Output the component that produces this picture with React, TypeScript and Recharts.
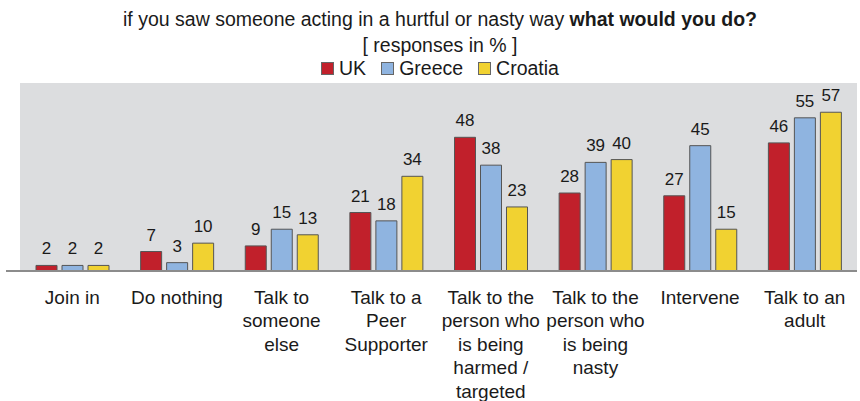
import React from "react";
import { BarChart, Bar, XAxis, YAxis, CartesianGrid, LabelList, Legend } from "recharts";

const categories = [
  "Join in",
  "Do nothing",
  "Talk to someone else",
  "Talk to a Peer Supporter",
  "Talk to the person who is being harmed / targeted",
  "Talk to the person who is being nasty",
  "Intervene",
  "Talk to an adult",
];

const tickLines: string[][] = [
  ["Join in"],
  ["Do nothing"],
  ["Talk to", "someone", "else"],
  ["Talk to a", "Peer", "Supporter"],
  ["Talk to the", "person who", "is being", "harmed /", "targeted"],
  ["Talk to the", "person who", "is being", "nasty"],
  ["Intervene"],
  ["Talk to an", "adult"],
];

const ukValues = [2, 7, 9, 21, 48, 28, 27, 46];
const greeceValues = [2, 3, 15, 18, 38, 39, 45, 55];
const croatiaValues = [2, 10, 13, 34, 23, 40, 15, 57];

const seriesNames = ["UK", "Greece", "Croatia"];
const seriesColors = ["#c1202b", "#8fb4e0", "#f1d231"];

const data = categories.map((c, i) => ({
  name: c,
  UK: ukValues[i],
  Greece: greeceValues[i],
  Croatia: croatiaValues[i],
}));

const FONT = '"Liberation Sans", Arial, sans-serif';

const Tick = (props: any) => {
  const { x, y, payload } = props;
  const idx = categories.indexOf(payload.value);
  const lines = tickLines[idx] || [payload.value];
  return (
    <text x={x} y={y} textAnchor="middle" fontFamily={FONT} fontSize={19} fill="#1a1a1a">
      {lines.map((l, i) => (
        <tspan key={i} x={x} dy={i === 0 ? 33 : 23.4}>
          {l}
        </tspan>
      ))}
    </text>
  );
};

const LegendContent = () => (
  <div
    style={{
      display: "flex",
      justifyContent: "center",
      alignItems: "center",
      fontFamily: FONT,
      fontSize: 19.5,
      color: "#1a1a1a",
      lineHeight: "20px",
      height: 20,
    }}
  >
    {seriesNames.map((n, i) => (
      <span key={n} style={{ display: "inline-flex", alignItems: "center", marginRight: i < 2 ? 15 : 0 }}>
        <span
          style={{
            display: "inline-block",
            width: 11,
            height: 11,
            background: seriesColors[i],
            border: "1px solid #666",
            marginRight: 5,
          }}
        />
        {n}
      </span>
    ))}
  </div>
);

export default function App() {
  return (
    <div style={{ position: "absolute", left: 0, top: 0, width: 860, height: 401, background: "#fff" }}>
      <div
        style={{
          position: "absolute",
          left: 0,
          top: 9,
          width: 880,
          textAlign: "center",
          fontFamily: FONT,
          fontSize: 19.5,
          lineHeight: "20px",
          color: "#1a1a1a",
          whiteSpace: "nowrap",
        }}
      >
        if you saw someone acting in a hurtful or nasty way <b>what would you do?</b>
      </div>
      <div
        style={{
          position: "absolute",
          left: 0,
          top: 35,
          width: 880,
          textAlign: "center",
          fontFamily: FONT,
          fontSize: 19.5,
          lineHeight: "20px",
          color: "#1a1a1a",
        }}
      >
        [ responses in % ]
      </div>
      <BarChart
        width={860}
        height={401}
        data={data}
        margin={{ top: 63, right: 3, left: 20, bottom: 100 }}
        barGap={5}
        barSize={21}
      >
        <CartesianGrid fill="#dcdddf" horizontal={false} vertical={false} stroke="none" />
        <Legend
          verticalAlign="top"
          align="center"
          content={<LegendContent />}
          wrapperStyle={{ top: 58, left: 0, width: 880, height: 20 }}
        />
        <XAxis
          dataKey="name"
          interval={0}
          height={30}
          tickLine={false}
          tickSize={0}
          tickMargin={0}
          axisLine={{ stroke: "#8c8c8c", strokeWidth: 2 }}
          tick={<Tick />}
        />
        <YAxis hide domain={[0, 67.5]} />
        {seriesNames.map((n, i) => (
          <Bar key={n} dataKey={n} fill={seriesColors[i]} stroke="#555" strokeWidth={1} isAnimationActive={false}>
            <LabelList
              dataKey={n}
              position="top"
              offset={11}
              fontFamily={FONT}
              fontSize={17}
              fill="#1a1a1a"
            />
          </Bar>
        ))}
      </BarChart>
      <div style={{ position: "absolute", left: 6, top: 270, width: 14, height: 2, background: "#8c8c8c" }} />
    </div>
  );
}
